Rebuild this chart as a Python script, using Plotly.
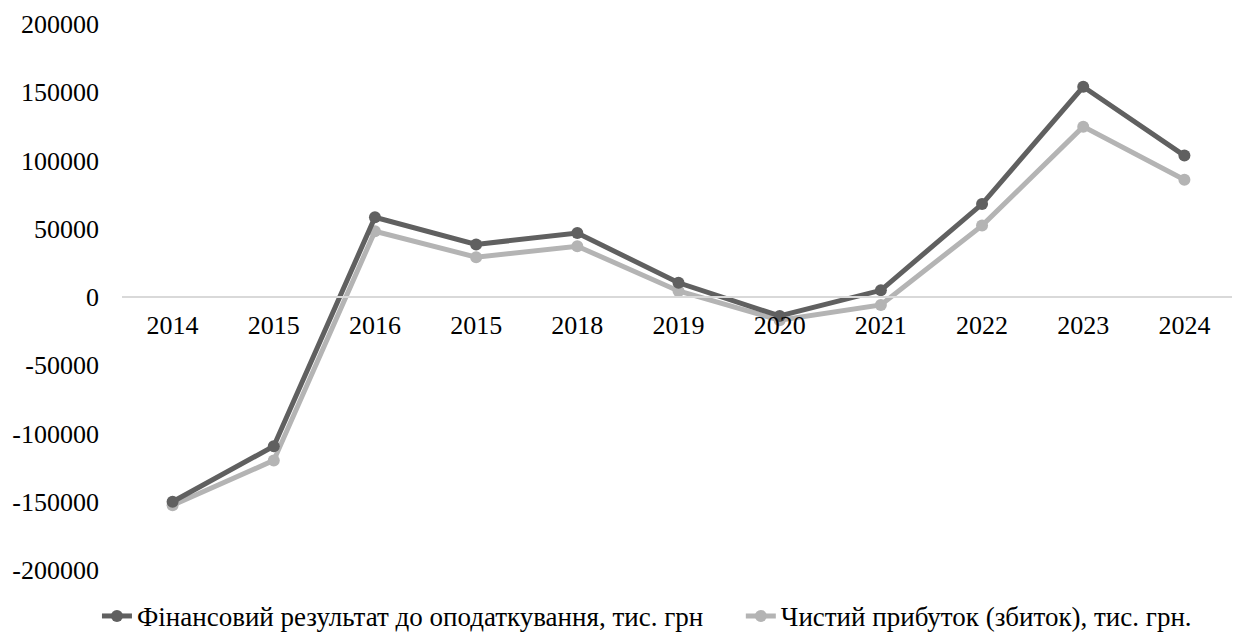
import plotly.graph_objects as go

categories = ["2014", "2015", "2016", "2015", "2018", "2019", "2020", "2021", "2022", "2023", "2024"]
profit_before_tax = [-150000, -109300, 58400, 38500, 46900, 10400, -13900, 4900, 68100, 154000, 103600]
net_profit = [-152600, -119700, 48200, 29200, 37200, 4400, -17000, -5800, 52300, 124800, 85900]
name1 = "Фінансовий результат до оподаткування, тис. грн"
name2 = "Чистий прибуток (збиток), тис. грн."

positions = list(range(len(categories)))
FONT = "Liberation Serif"
FS = 26
FS_LEG = 27

fig = go.Figure()
fig.add_trace(go.Scatter(
    x=positions, y=net_profit, name=name2, mode="lines+markers", legend="legend2",
    line=dict(color="#b4b4b4", width=5), marker=dict(size=12, color="#b4b4b4"),
))
fig.add_trace(go.Scatter(
    x=positions, y=profit_before_tax, name=name1, mode="lines+markers", legend="legend",
    line=dict(color="#606060", width=5), marker=dict(size=12, color="#606060"),
))

leg_common = dict(orientation="h", xanchor="left", y=-0.085, yanchor="middle",
                  font=dict(family=FONT, size=FS_LEG, color="black"),
                  bgcolor="rgba(0,0,0,0)")

fig.update_layout(
    width=1240, height=639,
    margin=dict(l=114, r=13, t=16, b=77, autoexpand=False),
    paper_bgcolor="white", plot_bgcolor="white",
    font=dict(family=FONT, size=FS, color="black"),
    showlegend=True,
    legend=dict(x=-0.0225, **leg_common),
    legend2=dict(x=0.556, **leg_common),
    xaxis=dict(
        range=[-0.5, len(categories) - 0.5],
        tickmode="array", tickvals=positions, ticktext=categories,
        anchor="free", position=0.5, side="bottom", automargin=False,
        showline=True, linecolor="#d9d9d9", linewidth=2,
        showgrid=False, zeroline=False, ticks="", ticklabelstandoff=5,
        tickfont=dict(family=FONT, size=FS, color="black"),
    ),
    yaxis=dict(
        range=[-200000, 200000], tickmode="array", automargin=False,
        tickvals=[-200000, -150000, -100000, -50000, 0, 50000, 100000, 150000, 200000],
        ticktext=["-200000", "-150000", "-100000", "-50000", "0", "50000", "100000", "150000", "200000"],
        showgrid=False, zeroline=False, showline=False, ticks="", ticklabelstandoff=22,
        tickfont=dict(family=FONT, size=FS, color="black"),
    ),
)

fig.write_html("out.html")
